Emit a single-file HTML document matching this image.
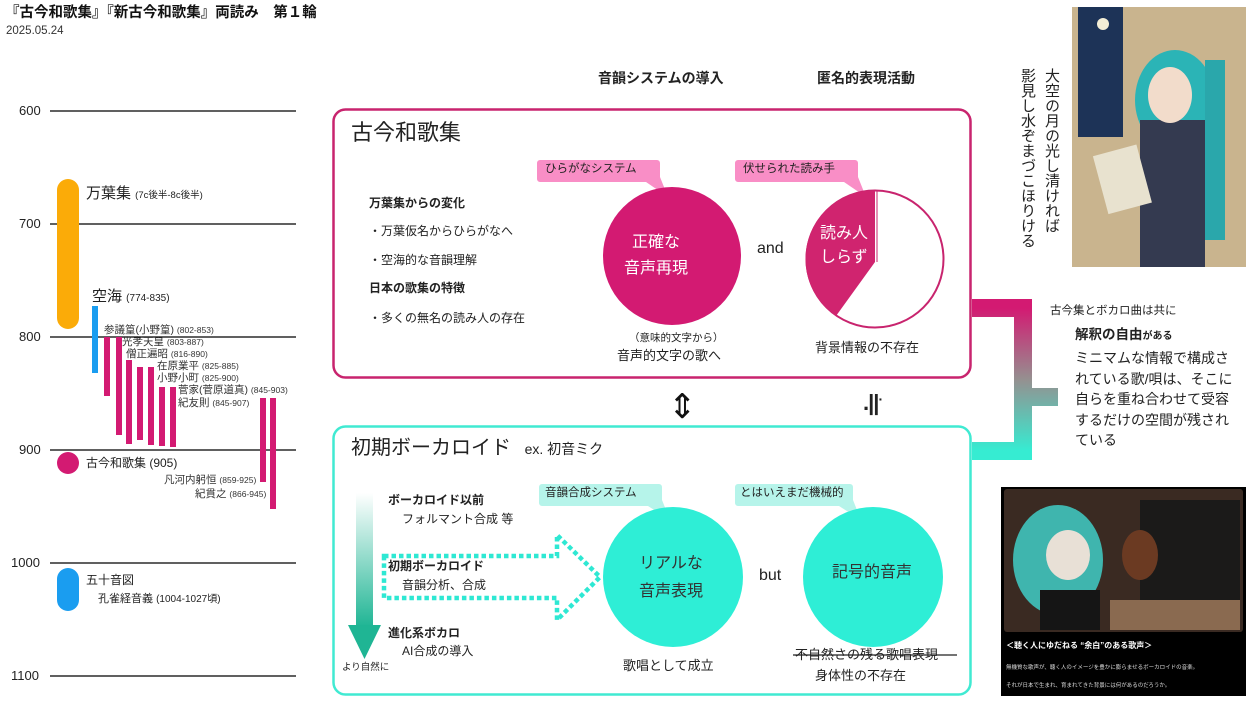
<!DOCTYPE html>
<html><head><meta charset="utf-8"><style>
*{margin:0;padding:0;box-sizing:border-box}
body{width:1253px;height:701px;overflow:hidden;background:#fff;position:relative;font-family:"Liberation Sans","Noto Sans CJK JP",sans-serif;color:#222}
.t{position:absolute;white-space:nowrap;line-height:1}
.s{font-size:10.5px;color:#333}
</style></head><body>
<svg width="1253" height="701" style="position:absolute;left:0;top:0">
<defs>
<linearGradient id="br" x1="0" y1="0" x2="0" y2="1">
<stop offset="0" stop-color="#d31a72"/><stop offset="0.5" stop-color="#959090"/><stop offset="1" stop-color="#36ecd2"/></linearGradient>
<linearGradient id="da" x1="0" y1="0" x2="0" y2="1">
<stop offset="0" stop-color="#ffffff"/><stop offset="1" stop-color="#1fb594"/></linearGradient>
</defs>
<g stroke="#000" stroke-width="1.2">
<line x1="50" y1="111" x2="296" y2="111"/><line x1="50" y1="224" x2="296" y2="224"/>
<line x1="50" y1="337" x2="296" y2="337"/><line x1="50" y1="450" x2="296" y2="450"/>
<line x1="50" y1="563" x2="296" y2="563"/><line x1="50" y1="676" x2="296" y2="676"/>
</g>
<rect x="57" y="179" width="22" height="150" rx="11" fill="#fbab08"/>
<rect x="92" y="306" width="6" height="67" fill="#1a9df0"/>
<g fill="#d31a72">
<rect x="104" y="337" width="6" height="59"/><rect x="116" y="337" width="6" height="98"/>
<rect x="126" y="360" width="6" height="84"/><rect x="137" y="367" width="6" height="73"/>
<rect x="148" y="367" width="6" height="78"/><rect x="159" y="387" width="6" height="59"/>
<rect x="170" y="387" width="6" height="60"/><rect x="260" y="398" width="6" height="84"/>
<rect x="270" y="398" width="6" height="111"/>
<circle cx="68" cy="463" r="11"/>
</g>
<rect x="57" y="568" width="22" height="43" rx="11" fill="#1a9df0"/>
<rect x="333.5" y="109.5" width="637" height="268" rx="12" fill="none" stroke="#c8246e" stroke-width="2.5"/>
<rect x="333.5" y="426.5" width="637" height="268" rx="12" fill="none" stroke="#40ead2" stroke-width="2.5"/>
<path d="M972 308 H1023 V451 H972 M1023 397 H1058" fill="none" stroke="url(#br)" stroke-width="18"/>
<path d="M540 160 h117 a3 3 0 0 1 3 3 v14 l8 20 l-22 -15 h-106 a3 3 0 0 1 -3 -3 v-16 a3 3 0 0 1 3 -3z" fill="#f98ec6"/>
<path d="M738 160 h117 a3 3 0 0 1 3 3 v14 l8 20 l-22 -15 h-106 a3 3 0 0 1 -3 -3 v-16 a3 3 0 0 1 3 -3z" fill="#f98ec6"/>
<circle cx="672" cy="256" r="69" fill="#d31a72"/>
<circle cx="875" cy="259" r="68.5" fill="#fff" stroke="#c8246e" stroke-width="2"/>
<path d="M875 190.5 V262 L836 316 A68.5 68.5 0 0 1 875 190.5Z" fill="#d0246f"/>
<line x1="877" y1="191" x2="877" y2="262" stroke="#c8246e" stroke-width="1"/>
<text x="668" y="418" font-size="34" font-family="DejaVu Sans" fill="#111">⇕</text>
<path d="M542 484 h117 a3 3 0 0 1 3 3 v13 l8 20 l-22 -14 h-106 a3 3 0 0 1 -3 -3 v-16 a3 3 0 0 1 3 -3z" fill="#b6f4ea"/>
<path d="M738 484 h112 a3 3 0 0 1 3 3 v13 l8 20 l-22 -14 h-101 a3 3 0 0 1 -3 -3 v-16 a3 3 0 0 1 3 -3z" fill="#b6f4ea"/>
<circle cx="673" cy="577" r="70" fill="#2eeed6"/>
<circle cx="873" cy="577" r="70" fill="#2eeed6"/>
<rect x="356" y="493" width="17" height="134" fill="url(#da)"/>
<path d="M348 625 H381 L364.5 659Z" fill="#1fb594"/>
<path d="M384 556 H557 V535 L600 577 L557 620 V598 H384 Z" fill="none" stroke="#2ee8d3" stroke-width="4.5" stroke-dasharray="4.5 3"/>
<line x1="793" y1="655" x2="957" y2="655" stroke="#222" stroke-width="1.3"/>
<rect x="1072" y="7" width="174" height="260" fill="#c9b48e"/>
<rect x="1078" y="7" width="45" height="130" fill="#1d3357"/>
<circle cx="1103" cy="24" r="6" fill="#f3eed6"/>
<ellipse cx="1175" cy="100" rx="40" ry="50" fill="#2bb4b6"/>
<rect x="1205" y="60" width="20" height="180" fill="#2aa7ab"/>
<rect x="1140" y="120" width="65" height="147" fill="#343a50"/>
<ellipse cx="1170" cy="95" rx="22" ry="28" fill="#f2dccb"/>
<rect x="1100" y="150" width="45" height="60" fill="#e8e2cf" transform="rotate(-15 1120 180)"/>
<rect x="1001" y="487" width="245" height="209" fill="#000"/>
<rect x="1004" y="489" width="239" height="143" rx="3" fill="#3a2a22"/>
<rect x="1140" y="500" width="100" height="110" fill="#1b1a19"/>
<ellipse cx="1058" cy="560" rx="45" ry="55" fill="#3fb5ae"/>
<ellipse cx="1068" cy="555" rx="22" ry="25" fill="#e8e0d6"/>
<rect x="1040" y="590" width="60" height="40" fill="#151515"/>
<ellipse cx="1140" cy="555" rx="18" ry="25" fill="#6b3a22"/>
<rect x="1110" y="600" width="130" height="30" fill="#8a6a50"/>
</svg>

<div class="t" style="left:5px;top:6px;font-size:14.5px;font-weight:bold;color:#111">『古今和歌集』『新古今和歌集』両読み　第１輪</div>
<div class="t" style="left:6px;top:26px;font-size:11.5px;color:#333">2025.05.24</div>

<div class="t" style="left:19px;top:104px;font-size:13px">600</div>
<div class="t" style="left:19px;top:217px;font-size:13px">700</div>
<div class="t" style="left:19px;top:330px;font-size:13px">800</div>
<div class="t" style="left:19px;top:443px;font-size:13px">900</div>
<div class="t" style="left:11px;top:556px;font-size:13px">1000</div>
<div class="t" style="left:11px;top:669px;font-size:13px">1100</div>

<div class="t" style="left:86px;top:186px;font-size:15px">万葉集 <span style="font-size:9.5px">(7c後半-8c後半)</span></div>
<div class="t" style="left:92px;top:289px;font-size:15px">空海 <span style="font-size:10px">(774-835)</span></div>
<div class="t s" style="left:104px;top:325px">参議篁(小野篁) <span style="font-size:8.5px">(802-853)</span></div>
<div class="t s" style="left:122px;top:337px">光孝天皇 <span style="font-size:8.5px">(803-887)</span></div>
<div class="t s" style="left:126px;top:349px">僧正遍昭 <span style="font-size:8.5px">(816-890)</span></div>
<div class="t s" style="left:157px;top:361px">在原業平 <span style="font-size:8.5px">(825-885)</span></div>
<div class="t s" style="left:157px;top:373px">小野小町 <span style="font-size:8.5px">(825-900)</span></div>
<div class="t s" style="left:178px;top:385px">菅家(菅原道真) <span style="font-size:8.5px">(845-903)</span></div>
<div class="t s" style="left:178px;top:398px">紀友則 <span style="font-size:8.5px">(845-907)</span></div>
<div class="t" style="left:86px;top:457px;font-size:12px">古今和歌集 (905)</div>
<div class="t s" style="left:164px;top:475px">凡河内躬恒 <span style="font-size:8.5px">(859-925)</span></div>
<div class="t s" style="left:195px;top:489px">紀貫之 <span style="font-size:8.5px">(866-945)</span></div>
<div class="t" style="left:86px;top:574px;font-size:12px">五十音図</div>
<div class="t" style="left:98px;top:594px;font-size:11px">孔雀経音義 <span style="font-size:10px">(1004-1027頃)</span></div>

<div class="t" style="left:598px;top:71px;font-size:14px;font-weight:bold">音韻システムの導入</div>
<div class="t" style="left:817px;top:71px;font-size:14px;font-weight:bold">匿名的表現活動</div>

<div class="t" style="left:351px;top:122px;font-size:22px">古今和歌集</div>
<div class="t" style="left:369px;top:197px;font-size:12px;font-weight:bold">万葉集からの変化</div>
<div class="t" style="left:369px;top:225px;font-size:12px">・万葉仮名からひらがなへ</div>
<div class="t" style="left:369px;top:254px;font-size:12px">・空海的な音韻理解</div>
<div class="t" style="left:369px;top:282px;font-size:12px;font-weight:bold">日本の歌集の特徴</div>
<div class="t" style="left:369px;top:312px;font-size:12px">・多くの無名の読み人の存在</div>
<div class="t" style="left:545px;top:164px;font-size:11.5px">ひらがなシステム</div>
<div class="t" style="left:743px;top:164px;font-size:11.5px">伏せられた読み手</div>
<div class="t" style="left:624px;top:230px;font-size:16px;color:#fff;text-align:center;line-height:26px">正確な<br>音声再現</div>
<div class="t" style="left:757px;top:241px;font-size:16px">and</div>
<div class="t" style="left:820px;top:222px;font-size:16px;color:#fff;line-height:24px">読み人<br>しらず</div>
<div class="t" style="left:629px;top:333px;font-size:10.5px">（意味的文字から）</div>
<div class="t" style="left:617px;top:349px;font-size:13px">音声的文字の歌へ</div>
<div class="t" style="left:815px;top:341px;font-size:13px">背景情報の不存在</div>

<div class="t" style="left:863px;top:392px;font-size:22px;font-weight:bold;letter-spacing:-1px">.||<span style="font-size:14px;vertical-align:top">·</span></div>

<div class="t" style="left:1050px;top:306px;font-size:11.5px">古今集とボカロ曲は共に</div>
<div class="t" style="left:1075px;top:328px;font-size:13.5px;font-weight:bold">解釈の自由<span style="font-size:10px">がある</span></div>
<div class="t" style="left:1075px;top:348px;font-size:14px;line-height:20.5px;white-space:normal;width:166px">ミニマムな情報で構成されている歌/唄は、そこに自らを重ね合わせて受容するだけの空間が残されている</div>

<div class="t" style="left:351px;top:438px;font-size:20px">初期ボーカロイド <span style="font-size:14px;margin-left:8px">ex. 初音ミク</span></div>
<div class="t" style="left:388px;top:494px;font-size:12px;font-weight:bold">ボーカロイド以前</div>
<div class="t" style="left:402px;top:513px;font-size:12px">フォルマント合成 等</div>
<div class="t" style="left:388px;top:560px;font-size:12px;font-weight:bold">初期ボーカロイド</div>
<div class="t" style="left:402px;top:579px;font-size:12px">音韻分析、合成</div>
<div class="t" style="left:388px;top:627px;font-size:12px;font-weight:bold">進化系ボカロ</div>
<div class="t" style="left:402px;top:645px;font-size:12px">AI合成の導入</div>
<div class="t" style="left:342px;top:663px;font-size:9.5px">より自然に</div>
<div class="t" style="left:545px;top:488px;font-size:11.5px">音韻合成システム</div>
<div class="t" style="left:740px;top:488px;font-size:11.5px">とはいえまだ機械的</div>
<div class="t" style="left:639px;top:550px;font-size:16px;color:#333;text-align:center;line-height:28px">リアルな<br>音声表現</div>
<div class="t" style="left:759px;top:568px;font-size:16px">but</div>
<div class="t" style="left:832px;top:565px;font-size:16px;color:#333">記号的音声</div>
<div class="t" style="left:623px;top:659px;font-size:13px">歌唱として成立</div>
<div class="t" style="left:795px;top:648px;font-size:13px">不自然さの残る歌唱表現</div>
<div class="t" style="left:815px;top:669px;font-size:13px">身体性の不存在</div>

<div class="t" style="left:1044px;top:68px;font-size:15px;writing-mode:vertical-rl;line-height:1">大空の月の光し清ければ</div>
<div class="t" style="left:1020px;top:68px;font-size:15px;writing-mode:vertical-rl;line-height:1">影見し水ぞまづこほりける</div>

<div class="t" style="left:1006px;top:642px;font-size:8px;color:#fff;font-weight:bold">＜聴く人にゆだねる “余白”のある歌声＞</div>
<div class="t" style="left:1006px;top:666px;font-size:5.5px;color:#ddd">無機質な歌声が、聴く人のイメージを豊かに膨らませるボーカロイドの音楽。</div>
<div class="t" style="left:1006px;top:684px;font-size:5.5px;color:#ddd">それが日本で生まれ、育まれてきた背景には何があるのだろうか。</div>
</body></html>
